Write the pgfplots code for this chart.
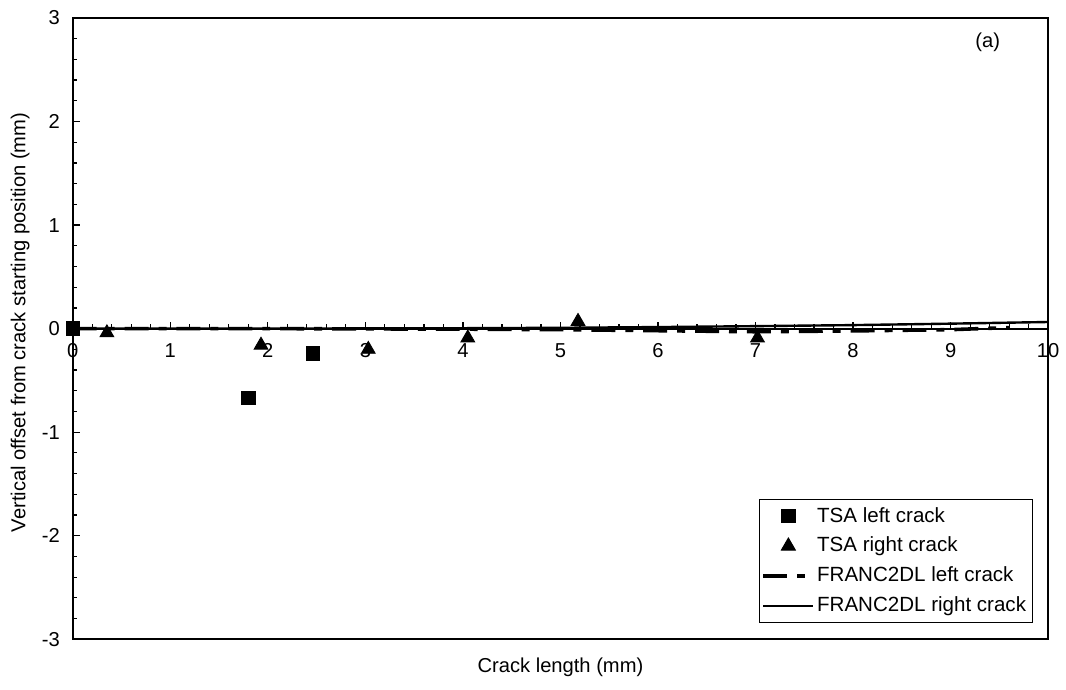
\documentclass[border=0pt]{standalone}
\usepackage{fontspec}
\setmainfont{Liberation Sans}
\usepackage{pgfplots}
\pgfplotsset{compat=1.18}

\begin{document}
\begin{tikzpicture}[font=\fontsize{10.1}{12}\selectfont]
\begin{axis}[
    scale only axis,
    width=489pt, height=311.5pt,
    xmin=0, xmax=10, ymin=-3, ymax=3,
    axis x line=middle,
    axis y line=left,
    axis line style={-, line width=0.9pt},
    xtick={0,1,...,10}, ytick={-3,-2,...,3},
    minor x tick num=4, minor y tick num=4,
    tick align=inside,
    tick style={black, line width=0.6pt},
    major tick length=3.5pt, minor tick length=2.2pt,
    hide obscured x ticks=false,
    x tick label style={yshift=-4pt},
    y tick label style={xshift=-3pt},
    /pgf/number format/assume math mode=true,
    clip=false,
    legend cell align=left,
    legend style={at={(axis description cs:0.984,0.026)}, anchor=south east,
        draw=black, line width=0.5pt, row sep=2pt, inner xsep=1pt, inner ysep=2pt,
        font=\fontsize{10.3}{12}\selectfont,
        /tikz/every odd column/.append style={column sep=-1pt}},
    legend image code/.code={%
        \draw[mark repeat=2, mark phase=2, #1] plot coordinates {(0cm,0cm) (0.44cm,0cm) (0.88cm,0cm)};},
]
% frame
\draw[line width=0.9pt] (rel axis cs:0,0) rectangle (rel axis cs:1,1);
\path (rel axis cs:-0.0746,-0.0803) rectangle (rel axis cs:1.0153,1.0289);

\addplot[only marks, mark=square*, mark size=3.4pt, black] coordinates {
    (0,0) (1.80,-0.67) (2.46,-0.24)};
\addplot[only marks, mark=triangle*, mark size=4pt, black] coordinates {
    (0.35,-0.04) (1.93,-0.16) (3.03,-0.20) (4.05,-0.09) (5.18,0.07) (7.02,-0.09)};
\addplot[black, line width=1.8pt, dash pattern=on 12pt off 5pt on 4pt off 5pt, mark=none] coordinates {
    (0,0) (2,0) (4,-0.005) (5,-0.01) (6,-0.02) (7,-0.03) (8,-0.022) (9,-0.01) (9.6,0.01)};
\addplot[black, line width=1.2pt, mark=none] coordinates {
    (0,0) (2,0) (4,0.004) (5,0.008) (6,0.015) (7,0.024) (8,0.034) (9,0.048) (10,0.064)};
\legend{TSA left crack, TSA right crack, FRANC2DL left crack, FRANC2DL right crack}

\node at (rel axis cs:0.938,0.961) {(a)};
\node[rotate=90] at (rel axis cs:-0.054,0.51) {Vertical offset from crack starting position (mm)};
\node at (rel axis cs:0.5,-0.0443) {Crack length (mm)};
\end{axis}
\end{tikzpicture}
\end{document}
